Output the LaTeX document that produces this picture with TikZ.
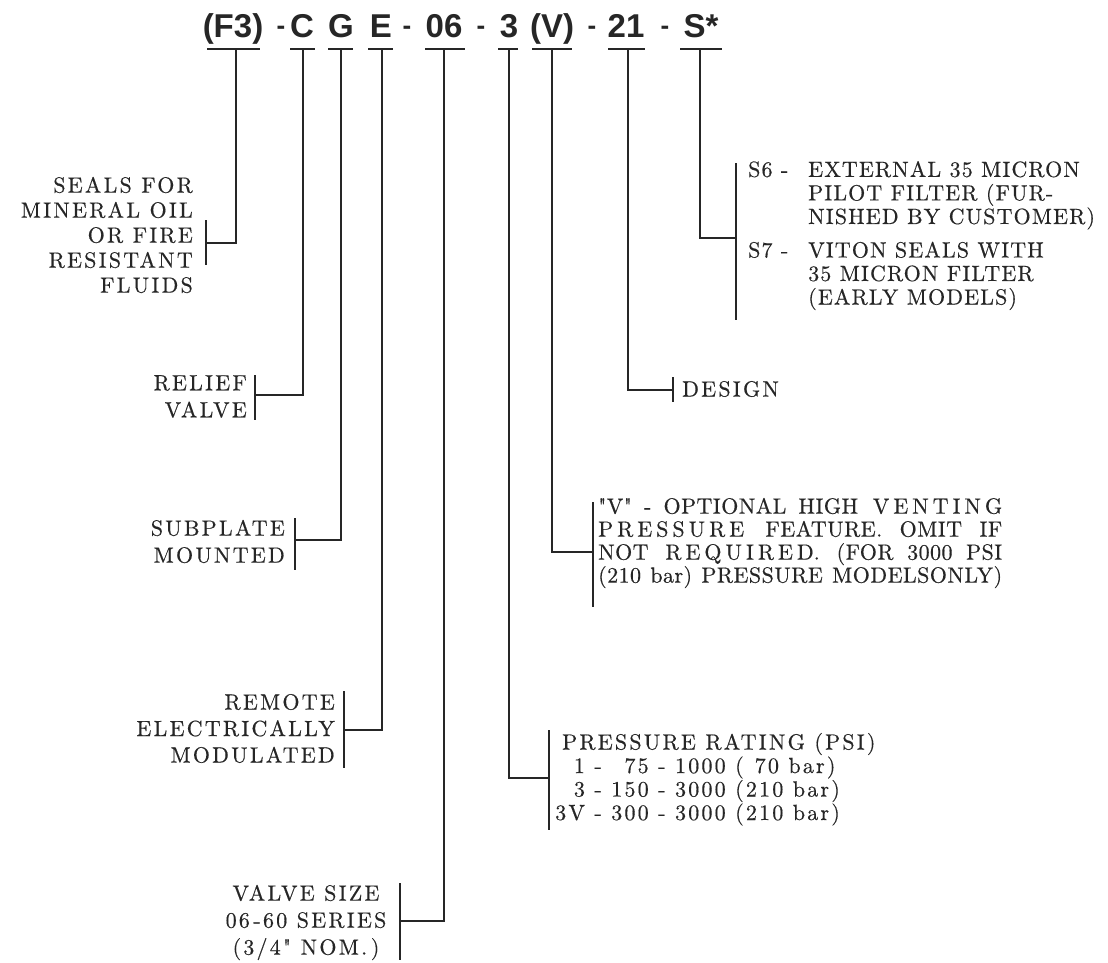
\documentclass[tikz,border=0pt]{standalone}
\usepackage{fontspec}
\newfontfamily\hf{Liberation Sans}
\newfontfamily\lbf{lmroman10-regular.otf}[LetterSpace=10,FakeBold=0.4]
\newcommand\lsz[1]{\lbf\fontsize{22}{#1}\selectfont}
\newcommand\wide[1]{{\addfontfeatures{LetterSpace=18}#1}}
\newcommand\tight[1]{{\addfontfeatures{LetterSpace=2}#1}}
\begin{document}
\begin{tikzpicture}[x=1pt,y=-1pt,
  conn/.style={draw=black!85, line width=1.3pt},
  uline/.style={draw=black!85, line width=1.6pt},
  code/.style={font=\hf\bfseries\fontsize{33}{33}\selectfont, text=black!85, inner sep=0, anchor=base},
  dashn/.style={font=\hf\bfseries\fontsize{26}{26}\selectfont, text=black!85, inner sep=0, anchor=base},
  lbl/.style={text=black!85, inner sep=0}]
\useasboundingbox[fill=white] (0,0) rectangle (1108,962);

% ---- header code ----
\node[code] (cF) at (233,37) {(F3)};
\node[dashn] (d1) at (281,34) {-};
\node[code] (cC) at (302,37) {C};
\node[code] (cG) at (341,37) {G};
\node[code] (cE) at (381,37) {E};
\node[dashn] (d2) at (407,34) {-};
\node[code] (c06) at (444,37) {06};
\node[dashn] (d3) at (481,34) {-};
\node[code] (c3) at (509,37) {3};
\node[code] (cV) at (552,37) {(V)};
\node[dashn] (d4) at (592,34) {-};
\node[code] (c21) at (626,37) {21};
\node[dashn] (d5) at (665,34) {-};
\node[code] (cS) at (701,37) {S*};

% underlines
\draw[uline] (207,49) -- (260,49);
\draw[uline] (290,49) -- (315,49);
\draw[uline] (328,49) -- (353,49);
\draw[uline] (368,49) -- (393,49);
\draw[uline] (425,49) -- (465,49);
\draw[uline] (498,49) -- (518,49);
\draw[uline] (532,49) -- (572,49);
\draw[uline] (608,49) -- (645,49);
\draw[uline] (680,49) -- (722,49);

% tops of connectors
\coordinate (tF) at (236,49);
\coordinate (tC) at (303,49);
\coordinate (tG) at (341,49);
\coordinate (tE) at (382,49);
\coordinate (t06) at (444,49);
\coordinate (t3) at (509,49);
\coordinate (tV) at (552,49);
\coordinate (t21) at (628,49);
\coordinate (tS) at (700,49);

% bracket joints
\coordinate (bF) at (206,243);
\coordinate (bC) at (255,395);
\coordinate (bG) at (295,540);
\coordinate (bE) at (344,730);
\coordinate (b06) at (400,921);
\coordinate (b3) at (549,778);
\coordinate (bV) at (593,552);
\coordinate (b21) at (673,390);
\coordinate (bS) at (736,238);

% connectors
\draw[conn] (tF) |- (bF);
\draw[conn] (tC) |- (bC);
\draw[conn] (tG) |- (bG);
\draw[conn] (tE) |- (bE);
\draw[conn] (t06) |- (b06);
\draw[conn] (t3) |- (b3);
\draw[conn] (tV) |- (bV);
\draw[conn] (t21) |- (b21);
\draw[conn] (tS) |- (bS);

% brackets
\draw[conn] (206,220) -- (206,265);
\draw[conn] (255,375) -- (255,420);
\draw[conn] (295,518) -- (295,570);
\draw[conn] (344,691) -- (344,768);
\draw[conn] (400,883) -- (400,960);
\draw[conn] (549,730) -- (549,830);
\draw[conn] (593,502) -- (593,607);
\draw[conn] (673,377) -- (673,402);
\draw[conn] (736,163) -- (736,320);

% ---- labels ----
\node[lbl, anchor=east, align=right, font=\lsz{25}] (tseal) at (193,235)
  {SEALS FOR\\MINERAL OIL\\OR FIRE\\RESISTANT\\FLUIDS};
\node[lbl, anchor=east, align=right, font=\lsz{27}] (trelief) at (247,396.5)
  {RELIEF\\VALVE};
\node[lbl, anchor=east, align=right, font=\lsz{27}] (tsub) at (285,541.5)
  {SUBPLATE\\MOUNTED};
\node[lbl, anchor=east, align=right, font=\lsz{26.5}] (trem) at (335,728.5)
  {REMOTE\\ELECTRICALLY\\MODULATED};
\node[lbl, anchor=center, align=center, font=\lsz{27}] (tsize) at (306,922.5)
  {VALVE SIZE\\06\,-60 SERIES\\(3/4" NOM.\,)};

\node[lbl, anchor=west, font=\lsz{23.3}] (tpress) at (555,780)
  {\begin{tabular}{@{}r@{\ - }r@{\ - }l@{\ }l@{}}
   \multicolumn{4}{@{\hspace{7pt}}l@{}}{PRESSURE RATING (PSI)}\\
   1 & 75 & 1000 & (\phantom{2}70 bar)\\
   3 & 150 & 3000 & (210 bar)\\
   3V & 300 & 3000 & (210 bar)
  \end{tabular}};

\node[lbl, anchor=west, align=left, font=\lsz{23}] (tvent) at (598,543)
  {\makebox[404pt][s]{\tight{"V" - OPTIONAL HIGH} \wide{VENTING}}\\
   \makebox[404pt][s]{\wide{PRESSURE} \tight{FEATURE. OMIT IF}}\\
   \makebox[404pt][s]{\tight{NOT} \wide{REQUIRED}. \tight{(FOR 3000 PSI}}\\
   \makebox[404pt][s]{\tight{(210 bar) PRESSURE MODELSONLY)}}};

\node[lbl, anchor=west, font=\lsz{23}] (tdesign) at (682,389) {DESIGN};

\node[lbl, anchor=west, font={\lsz{23.5}\addfontfeatures{LetterSpace=5}}] (ts) at (748,236)
  {\begin{tabular}{@{}l@{}l@{}}
   \makebox[60pt][l]{S6 -} & EXTERNAL 35 MICRON\\
   & PILOT FILTER (FUR-\\
   & NISHED BY CUSTOMER)\\[10pt]
   \makebox[60pt][l]{S7 -} & VITON SEALS WITH\\
   & 35 MICRON FILTER\\
   & (EARLY MODELS)
  \end{tabular}};
\end{tikzpicture}
\end{document}
